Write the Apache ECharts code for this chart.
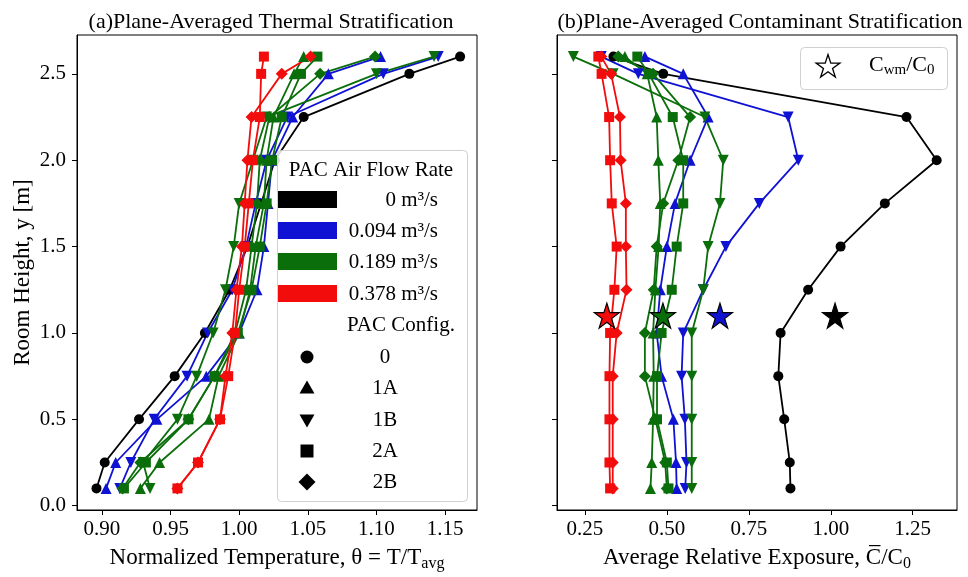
<!DOCTYPE html>
<html>
<head>
<meta charset="utf-8">
<script src="https://cdn.jsdelivr.net/npm/echarts@6/dist/echarts.min.js"></script>
<style>html,body{margin:0;padding:0;background:#fff}#c{width:968px;height:577px}</style>
</head>
<body>
<div id="c"></div>
<script>
// ---------------- DATA ----------------
const heights = [0.1, 0.25, 0.5, 0.75, 1.0, 1.25, 1.5, 1.75, 2.0, 2.25, 2.5, 2.6];

// (a) normalized temperature
const tBlack0  = [0.896, 0.902, 0.927, 0.953, 0.975, 0.993, 1.006, 1.016, 1.026, 1.047, 1.124, 1.161];
const tBlue1A  = [0.903, 0.910, 0.940, 0.976, 1.000, 1.013, 1.018, 1.021, 1.024, 1.039, 1.065, 1.103];
const tBlue1B  = [0.913, 0.921, 0.938, 0.962, 0.977, 0.995, 1.005, 1.012, 1.020, 1.035, 1.105, 1.145];
const tGreen1A = [0.928, 0.942, 0.978, 0.985, 1.000, 1.008, 1.012, 1.018, 1.020, 1.025, 1.040, 1.047];
const tGreen1B = [0.935, 0.930, 0.955, 0.969, 0.981, 0.990, 0.996, 1.000, 1.010, 1.020, 1.100, 1.142];
const tGreen2A = [0.916, 0.932, 0.963, 0.982, 0.999, 1.009, 1.015, 1.020, 1.024, 1.031, 1.045, 1.057];
const tGreen2B = [0.915, 0.928, 0.963, 0.982, 0.997, 1.005, 1.009, 1.013, 1.015, 1.022, 1.059, 1.099];
const tRed2A   = [0.955, 0.970, 0.986, 0.992, 0.997, 1.000, 1.004, 1.007, 1.010, 1.015, 1.016, 1.018];
const tRed2B   = [0.955, 0.970, 0.986, 0.990, 0.995, 0.998, 1.002, 1.004, 1.006, 1.009, 1.031, 1.052];

// (b) average relative exposure
const cBlack0  = [0.877, 0.875, 0.858, 0.840, 0.847, 0.931, 1.030, 1.165, 1.323, 1.231, 0.489, 0.337];
const cBlue1A  = [0.530, 0.528, 0.520, 0.484, 0.469, 0.480, 0.500, 0.525, 0.571, 0.626, 0.550, 0.433];
const cBlue1B  = [0.556, 0.560, 0.555, 0.545, 0.550, 0.611, 0.680, 0.782, 0.901, 0.870, 0.413, 0.300];
const cGreen1A = [0.450, 0.454, 0.458, 0.460, 0.458, 0.465, 0.475, 0.480, 0.474, 0.469, 0.440, 0.372];
const cGreen1B = [0.576, 0.576, 0.576, 0.576, 0.576, 0.611, 0.626, 0.662, 0.672, 0.616, 0.336, 0.215];
const cGreen2A = [0.505, 0.500, 0.470, 0.470, 0.484, 0.515, 0.530, 0.550, 0.550, 0.518, 0.445, 0.410];
const cGreen2B = [0.500, 0.495, 0.465, 0.433, 0.433, 0.460, 0.469, 0.489, 0.535, 0.571, 0.458, 0.352];
const cRed2A   = [0.327, 0.325, 0.325, 0.325, 0.327, 0.340, 0.347, 0.332, 0.327, 0.324, 0.301, 0.291];
const cRed2B   = [0.335, 0.335, 0.335, 0.335, 0.347, 0.377, 0.375, 0.375, 0.359, 0.357, 0.330, 0.300];

// C_wm / C_0 stars (red, green, blue, black)
const starX = [0.317, 0.488, 0.662, 1.013];
const starY = [1.1, 1.1, 1.1, 1.1];

const tempTicks = [0.90, 0.95, 1.00, 1.05, 1.10, 1.15];
const expTicks = [0.25, 0.50, 0.75, 1.00, 1.25];
const heightTicks = [0.0, 0.5, 1.0, 1.5, 2.0, 2.5];
const flowLabels = ['0 m\u00b3/s', '0.094 m\u00b3/s', '0.189 m\u00b3/s', '0.378 m\u00b3/s'];
const configLabels = ['0', '1A', '1B', '2A', '2B'];

// ---------------- STYLE ----------------
const FONT = '"Liberation Serif", "DejaVu Serif", serif';
const COL = { k: '#000000', b: '#0f12d2', g: '#0a6e0a', r: '#f20c0c' };
const DIAMOND = 'path://M0,-1L1,0L0,1L-1,0Z';
const STAR = 'path://M50,0L61.2,34.5L97.6,34.5L68.2,55.9L79.4,90.5L50,69.1L20.6,90.5L31.8,55.9L2.4,34.5L38.8,34.5Z';
const SYM = {
  '0':  { symbol: 'circle', size: 10, rot: 0 },
  '1A': { symbol: 'triangle', size: 11, rot: 0 },
  '1B': { symbol: 'triangle', size: 11, rot: 180 },
  '2A': { symbol: 'rect', size: 10, rot: 0 },
  '2B': { symbol: DIAMOND, size: 12, rot: 0 }
};

function mk(name, xs, color, cfg, gi) {
  const s = SYM[cfg];
  return {
    name: name, type: 'line', xAxisIndex: gi, yAxisIndex: gi,
    data: xs.map((v, i) => [v, heights[i]]),
    symbol: s.symbol, symbolSize: s.size, symbolRotate: s.rot, showSymbol: true,
    lineStyle: { color: color, width: 1.8 },
    itemStyle: { color: color, borderWidth: 0, opacity: 1 },
    emphasis: { disabled: true }, animation: false, z: 2
  };
}

const series = [
  mk('T 0 0', tBlack0, COL.k, '0', 0),
  mk('T b 1A', tBlue1A, COL.b, '1A', 0),
  mk('T b 1B', tBlue1B, COL.b, '1B', 0),
  mk('T g 1A', tGreen1A, COL.g, '1A', 0),
  mk('T g 1B', tGreen1B, COL.g, '1B', 0),
  mk('T g 2A', tGreen2A, COL.g, '2A', 0),
  mk('T g 2B', tGreen2B, COL.g, '2B', 0),
  mk('T r 2A', tRed2A, COL.r, '2A', 0),
  mk('T r 2B', tRed2B, COL.r, '2B', 0),
  mk('C 0 0', cBlack0, COL.k, '0', 1),
  mk('C b 1A', cBlue1A, COL.b, '1A', 1),
  mk('C b 1B', cBlue1B, COL.b, '1B', 1),
  mk('C g 1A', cGreen1A, COL.g, '1A', 1),
  mk('C g 1B', cGreen1B, COL.g, '1B', 1),
  mk('C g 2A', cGreen2A, COL.g, '2A', 1),
  mk('C g 2B', cGreen2B, COL.g, '2B', 1),
  mk('C r 2A', cRed2A, COL.r, '2A', 1),
  mk('C r 2B', cRed2B, COL.r, '2B', 1),
  {
    name: 'Cwm', type: 'scatter', xAxisIndex: 1, yAxisIndex: 1,
    data: starX.map((v, i) => ({ value: [v, starY[i]], itemStyle: { color: [COL.r, COL.g, COL.b, COL.k][i] } })),
    symbol: STAR, symbolSize: 25,
    itemStyle: { borderColor: '#000', borderWidth: 1.2, opacity: 1 },
    emphasis: { disabled: true }, animation: false, z: 5
  }
];

function xAxisCfg(gi, min, max, ticks, name, rich) {
  return {
    type: 'value', gridIndex: gi, min: min, max: max,
    axisLine: { show: true, onZero: false, lineStyle: { color: '#000', width: 1 } },
    axisTick: { show: true, length: 5, inside: false, customValues: ticks, lineStyle: { color: '#000' } },
    axisLabel: { show: true, customValues: ticks, formatter: v => v.toFixed(2), margin: 9,
                 fontFamily: FONT, fontSize: 21, color: '#000' },
    splitLine: { show: false },
    name: name, nameLocation: 'middle', nameGap: 34,
    nameTextStyle: { fontFamily: FONT, fontSize: 23, color: '#000', rich: rich }
  };
}
function yAxisCfg(gi, showLabels, name) {
  return {
    type: 'value', gridIndex: gi, min: -0.025, max: 2.725,
    axisLine: { show: true, onZero: false, lineStyle: { color: '#000', width: 1 } },
    axisTick: { show: true, length: 5, customValues: heightTicks, lineStyle: { color: '#000' } },
    axisLabel: { show: showLabels, customValues: heightTicks, formatter: v => v.toFixed(1), margin: 11,
                 fontFamily: FONT, fontSize: 21, color: '#000' },
    splitLine: { show: false },
    name: name, nameLocation: 'middle', nameGap: 43, nameRotate: 90,
    nameTextStyle: { fontFamily: FONT, fontSize: 23, color: '#000' }
  };
}
const subRich = {
  s: { fontFamily: FONT, fontSize: 16, color: '#000', padding: [12, 0, 0, 0] }
};

// ---------------- LEGENDS (graphic) ----------------
function starPoints(cx, cy, R) {
  const pts = [];
  const r = R * 0.382;
  for (let i = 0; i < 10; i++) {
    const a = -Math.PI / 2 + i * Math.PI / 5;
    const rr = i % 2 === 0 ? R : r;
    pts.push([cx + rr * Math.cos(a), cy + rr * Math.sin(a)]);
  }
  return pts;
}
const LF = '21px ' + FONT;
const graphics = [];
// left legend frame
graphics.push({ type: 'rect', shape: { x: 277.5, y: 150.5, width: 190, height: 351, r: 4 },
  style: { fill: 'rgba(255,255,255,0.85)', stroke: '#d0d0d0', lineWidth: 1 }, z: 100 });
graphics.push({ type: 'text', x: 371, y: 170, z: 101,
  style: { text: 'PAC Air Flow Rate', font: LF, fill: '#000', align: 'center', verticalAlign: 'middle' } });
const patchCols = [COL.k, COL.b, COL.g, COL.r];
const patchY = [191, 222, 253, 285];
patchCols.forEach((c, i) => {
  graphics.push({ type: 'rect', shape: { x: 278, y: patchY[i], width: 59, height: 17 }, style: { fill: c }, z: 101 });
  graphics.push({ type: 'text', x: 438, y: patchY[i] + 9, z: 101,
    style: { text: flowLabels[i], font: LF, fill: '#000', align: 'right', verticalAlign: 'middle' } });
});
graphics.push({ type: 'text', x: 401, y: 325, z: 101,
  style: { text: 'PAC Config.', font: LF, fill: '#000', align: 'center', verticalAlign: 'middle' } });
const cfgY = [357, 388, 420, 451, 482];
const mx = 307;
graphics.push({ type: 'circle', shape: { cx: mx, cy: cfgY[0], r: 6.5 }, style: { fill: '#000' }, z: 101 });
graphics.push({ type: 'polygon', shape: { points: [[mx, cfgY[1] - 7.5], [mx + 7.5, cfgY[1] + 5.5], [mx - 7.5, cfgY[1] + 5.5]] }, style: { fill: '#000' }, z: 101 });
graphics.push({ type: 'polygon', shape: { points: [[mx, cfgY[2] + 7.5], [mx + 7.5, cfgY[2] - 5.5], [mx - 7.5, cfgY[2] - 5.5]] }, style: { fill: '#000' }, z: 101 });
graphics.push({ type: 'rect', shape: { x: mx - 6.5, y: cfgY[3] - 6.5, width: 13, height: 13 }, style: { fill: '#000' }, z: 101 });
graphics.push({ type: 'polygon', shape: { points: [[mx, cfgY[4] - 8.5], [mx + 8.5, cfgY[4]], [mx, cfgY[4] + 8.5], [mx - 8.5, cfgY[4]]] }, style: { fill: '#000' }, z: 101 });
configLabels.forEach((t, i) => {
  graphics.push({ type: 'text', x: 385, y: cfgY[i], z: 101,
    style: { text: t, font: LF, fill: '#000', align: 'center', verticalAlign: 'middle' } });
});
// right legend
graphics.push({ type: 'rect', shape: { x: 800.5, y: 47.5, width: 147, height: 42, r: 4 },
  style: { fill: 'rgba(255,255,255,0.85)', stroke: '#d0d0d0', lineWidth: 1 }, z: 100 });
graphics.push({ type: 'polygon', shape: { points: starPoints(828, 67, 12.5) },
  style: { fill: '#fff', stroke: '#000', lineWidth: 1.3 }, z: 101 });
graphics.push({ type: 'text', x: 869, y: 65, z: 101,
  style: { text: 'C{s|wm}/C{s|0}', font: '22px ' + FONT, fill: '#000', align: 'left', verticalAlign: 'middle',
           rich: { s: { fontFamily: FONT, fontSize: 15, fill: '#000', padding: [11, 0, 0, 0] } } } });

// ---------------- CHART ----------------
const chart = echarts.init(document.getElementById('c'), null, { renderer: 'canvas' });
chart.setOption({
  backgroundColor: '#fff',
  animation: false,
  title: [
    { text: '(a)Plane-Averaged Thermal Stratification', left: 266, top: 6, textAlign: 'center',
      textStyle: { fontFamily: FONT, fontSize: 22, fontWeight: 'normal', color: '#000' } },
    { text: '(b)Plane-Averaged Contaminant Stratification', left: 755, top: 6, textAlign: 'center',
      textStyle: { fontFamily: FONT, fontSize: 22, fontWeight: 'normal', color: '#000' } }
  ],
  grid: [
    { left: 77, top: 35, width: 400, height: 478, show: true, borderColor: '#000', borderWidth: 1, backgroundColor: 'transparent' },
    { left: 557, top: 35, width: 400, height: 478, show: true, borderColor: '#000', borderWidth: 1, backgroundColor: 'transparent' }
  ],
  xAxis: [
    xAxisCfg(0, 0.8818, 1.1733, tempTicks, 'Normalized Temperature, \u03b8 = T/T{s|avg}', subRich),
    xAxisCfg(1, 0.165, 1.385, expTicks, 'Average Relative Exposure, C\u0305/C{s|0}', subRich)
  ],
  yAxis: [
    yAxisCfg(0, true, 'Room Height, y [m]'),
    yAxisCfg(1, false, '')
  ],
  series: series,
  graphic: graphics
});
</script>
</body>
</html>
